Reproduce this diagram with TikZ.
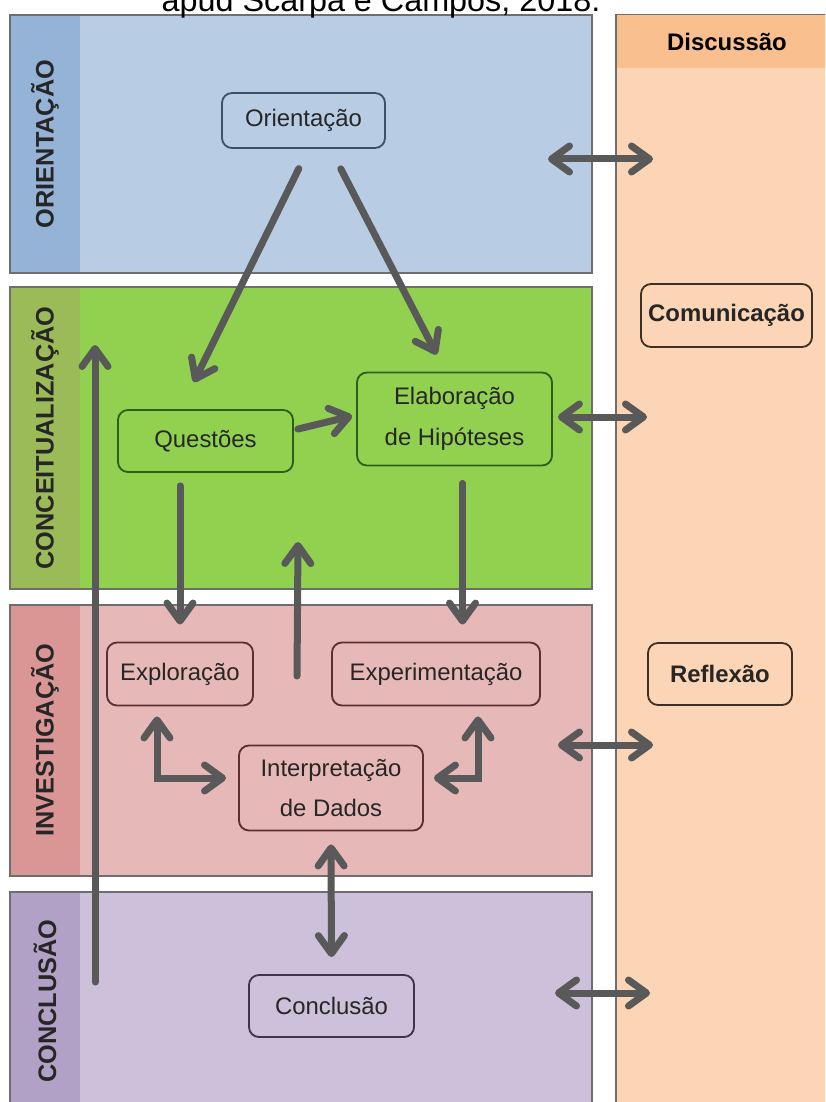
\documentclass[tikz,border=0pt]{standalone}
\usepackage{fontspec}
\setmainfont{Liberation Sans}
\usepackage{tikz}
\usetikzlibrary{calc, arrows.meta}

\definecolor{orientbg}{HTML}{B8CCE4}
\definecolor{orientlab}{HTML}{95B3D7}
\definecolor{concbg}{HTML}{92D050}
\definecolor{conclab}{HTML}{9BBB59}
\definecolor{invbg}{HTML}{E6B9B8}
\definecolor{invlab}{HTML}{D99694}
\definecolor{fimbg}{HTML}{CCC0DA}
\definecolor{fimlab}{HTML}{B2A1C7}
\definecolor{discbg}{HTML}{FBD5B5}
\definecolor{disclab}{HTML}{F9BF8F}
\definecolor{arrowgray}{HTML}{595959}
\definecolor{framegray}{HTML}{6E6E6E}
\definecolor{blueline}{HTML}{3F5166}
\definecolor{greenline}{HTML}{2F5F16}
\definecolor{redline}{HTML}{5A3030}
\definecolor{lilacline}{HTML}{3D3550}
\definecolor{brownline}{HTML}{3D3024}

\newcommand{\pxu}{*0.25mm}

\begin{document}
\begin{tikzpicture}[x=0.025cm, y=-0.025cm,
		band/.style={draw=framegray, line width=1pt},
		lab/.style={rotate=90, text=black!85,
			font=\bfseries\fontsize{18}{20}\selectfont},
		stage/.style={draw, rounded corners=2.5mm, line width=1.3pt,
			align=center, text=black!85, font=\fontsize{17}{29}\selectfont},
		talk/.style={stage, font=\bfseries\fontsize{17}{20}\selectfont,
			draw=brownline},
		tip/.style={Straight Barb[length=4.5mm, width=6.5mm, line join=round, line cap=round]},
		big/.style={draw=arrowgray, line width=1.75mm, line cap=round, -{Straight Barb[length=4.5mm, width=6.5mm, line join=round, line cap=round]}},
		both/.style={big, {Straight Barb[length=4.5mm, width=6.5mm, line join=round, line cap=round]}-{Straight Barb[length=4.5mm, width=6.5mm, line join=round, line cap=round]}}]
		\useasboundingbox (0,0) rectangle (825,1102);
		\clip (0,0) rectangle (825,1102);

		% faixas
		\filldraw[band, fill=orientbg] (10,15) rectangle (592,273);
		\fill[orientlab] (10.5,15.5) rectangle (80,272.5);
		\draw[band] (10,15) rectangle (592,273);
		\filldraw[band, fill=concbg] (10,287) rectangle (592,589);
		\fill[conclab] (10.5,287.5) rectangle (80,588.5);
		\draw[band] (10,287) rectangle (592,589);
		\filldraw[band, fill=invbg] (10,605) rectangle (592,876);
		\fill[invlab] (10.5,605.5) rectangle (80,875.5);
		\draw[band] (10,605) rectangle (592,876);
		\filldraw[band, fill=fimbg] (10,892) rectangle (592,1120);
		\fill[fimlab] (10.5,892.5) rectangle (80,1119.5);
		\draw[band] (10,892) rectangle (592,1120);
		\filldraw[band, fill=discbg] (616,15) rectangle (840,1120);
		\fill[disclab] (616.5,15.5) rectangle (839,68);

		\node[lab] (orientlabel) at (45,144) {ORIENTAÇÃO};
		\node[lab] (conclabel) at (45,438) {CONCEITUALIZAÇÃO};
		\node[lab] (invlabel) at (45,740) {INVESTIGAÇÃO};
		\node[lab] (fimlabel) at (45,1001) {CONCLUSÃO};

		\node[anchor=base, font=\fontsize{23}{26}\selectfont] (fonte) at (381,12) {apud Scarpa e Campos, 2018.};
		\node[font=\bfseries\fontsize{17}{20}\selectfont] (disc) at (727,42) {Discussão};

		% etapas
		\node[stage, draw=blueline, minimum width=163\pxu, minimum height=55\pxu] (orient) at (303.5,120.5) {Orientação};
		\node[stage, draw=greenline, minimum width=175\pxu, minimum height=62\pxu] (quest) at (205.5,441) {Questões};
		\node[stage, draw=greenline, minimum width=195\pxu, minimum height=93\pxu] (elab) at (454.5,419) {Elaboração\\de Hipóteses};
		\node[stage, draw=redline, minimum width=146\pxu, minimum height=63\pxu] (explo) at (180,674) {Exploração};
		\node[stage, draw=redline, minimum width=208\pxu, minimum height=63\pxu] (experim) at (436,674) {Experimentação};
		\node[stage, draw=redline, minimum width=184\pxu, minimum height=85\pxu] (interp) at (331,788) {Interpretação\\de Dados};
		\node[stage, draw=lilacline, minimum width=165\pxu, minimum height=62\pxu] (concl) at (331.5,1006) {Conclusão};
		\node[talk, minimum width=171\pxu, minimum height=63\pxu] (comunic) at (726.5,315.5) {Comunicação};
		\node[talk, minimum width=144\pxu, minimum height=62\pxu] (reflex) at (720,674) {Reflexão};

		\coordinate (elabfoot) at ($(elab.south)+(8,0)$);
		\coordinate (voltaA) at (297,676);
		\coordinate (voltaB) at (298,542);
		\coordinate (retornoA) at (95,982);
		\coordinate (retornoB) at (95,345);
		\coordinate (discA1) at (548,159);
		\coordinate (discB1) at (653,159);
		\coordinate (discB2) at (647,417);
		\coordinate (discA3) at (558,745);
		\coordinate (discB3) at (653,745);
		\coordinate (discA4) at (555,993);
		\coordinate (discB4) at (650,993);

		% setas
		\draw[big, shorten <=5.5mm, shorten >=7.5mm] ($(orient.south)+(5,0)$) -- ($(quest.north)+(-25,0)$);
		\draw[big, shorten <=5.6mm, shorten >=4.8mm] ($(orient.south)+(27,0)$) -- ($(elab.north)+(-9,0)$);
		\draw[big, shorten <=1mm, shorten >=1mm] ($(quest.east)+(0,-11)$) -- ($(elab.west)+(0,-4)$);
		\draw[big, shorten <=3.25mm, shorten >=4.25mm] (quest.south -| explo.north) -- (explo.north);
		\draw[big, shorten <=4.25mm, shorten >=4.25mm] (elabfoot) -- (elabfoot |- experim.north);
		\draw[big] (voltaA) -- (voltaB);
		\draw[big] (retornoA) -- (retornoB);
		\draw[both, shorten <=2.5mm, shorten >=3mm] ($(explo.south)+(-23,0)$) |- ($(interp.west)+(0,-10)$);
		\draw[both, shorten <=2.5mm, shorten >=2.5mm] ($(experim.south)+(42,0)$) |- ($(interp.east)+(0,-10)$);
		\draw[both, shorten <=3.25mm, shorten >=4.25mm] (interp.south) -- (concl.north);

		\draw[both] (discA1) -- (discB1);
		\draw[both, shorten <=1.25mm] ($(elab.east)+(0,-2)$) -- (discB2);
		\draw[both] (discA3) -- (discB3);
		\draw[both] (discA4) -- (discB4);
	\end{tikzpicture}
\end{document}
